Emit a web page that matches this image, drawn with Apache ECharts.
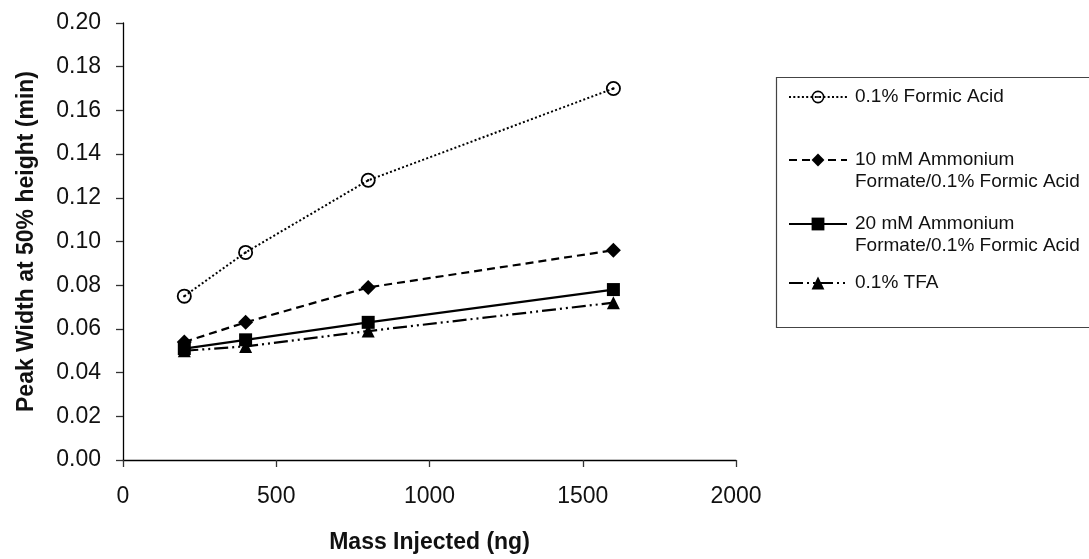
<!DOCTYPE html>
<html>
<head>
<meta charset="utf-8">
<script src="https://cdn.jsdelivr.net/npm/echarts@6/dist/echarts.min.js"></script>
<style>
  html, body { margin: 0; padding: 0; background: #fff; }
  #chart { width: 1089px; height: 559px; }
</style>
</head>
<body>
<div id="chart"></div>
<script>
// Injected mass (ng) and measured peak widths (min) for each mobile phase
const massInjected = [200, 400, 800, 1600];
const formicAcid = [0.075, 0.095, 0.128, 0.170];
const ammonium10 = [0.054, 0.063, 0.079, 0.096];
const ammonium20 = [0.051, 0.055, 0.063, 0.078];
const tfa = [0.050, 0.052, 0.059, 0.072];

const seriesNames = [
  '0.1% Formic Acid',
  '10 mM Ammonium\nFormate/0.1% Formic Acid',
  '20 mM Ammonium\nFormate/0.1% Formic Acid',
  '0.1% TFA'
];

const xAxisName = 'Mass Injected (ng)';
const yAxisName = 'Peak Width at 50% height (min)';

const FONT = '"Liberation Sans", Arial, Helvetica, sans-serif';
const INK = '#000';

// open circle with a centre dot
const ringDot = 'path://M10,0 A10,10 0 1,1 10,20 A10,10 0 1,1 10,0 Z ' +
  'M10,2.4 A7.6,7.6 0 1,0 10,17.6 A7.6,7.6 0 1,0 10,2.4 Z ' +
  'M10,8.4 A1.6,1.6 0 1,1 10,11.6 A1.6,1.6 0 1,1 10,8.4 Z';

function pairs(values) {
  return massInjected.map((m, i) => [m, values[i]]);
}

const styles = [
  { values: formicAcid, symbol: ringDot, size: 15, line: { width: 2, type: [2, 2.3] } },
  { values: ammonium10, symbol: 'diamond', size: 15, line: { width: 2.2, type: [8, 5] } },
  { values: ammonium20, symbol: 'rect', size: 13, line: { width: 2.2, type: 'solid' } },
  { values: tfa, symbol: 'triangle', size: 13, line: { width: 2.2, type: [14, 4, 2, 4, 2, 4] } }
];

const series = styles.map((s, i) => ({
  name: seriesNames[i],
  type: 'line',
  data: pairs(s.values),
  symbol: s.symbol,
  symbolSize: s.size,
  symbolKeepAspect: true,
  showAllSymbol: true,
  lineStyle: { color: INK, width: s.line.width, type: s.line.type, cap: 'butt' },
  itemStyle: { color: INK, borderWidth: 0 },
  z: 10 - i
}));

// one legend block per entry so each sits at its own row inside the frame
const legendTops = [86, 127, 191, 272];
const legends = seriesNames.map((name, i) => ({
  data: [name],
  orient: 'vertical',
  left: 788,
  top: legendTops[i],
  padding: 0,
  itemWidth: 58,
  itemHeight: 16,
  selectedMode: false,
  formatter: n => (n.indexOf('\n') >= 0 ? '\n' + n : n),
  textStyle: { fontFamily: FONT, fontSize: 19, lineHeight: 22, color: '#111', padding: [0, 0, 0, 3] }
}));

const chart = echarts.init(document.getElementById('chart'), null, { renderer: 'canvas' });
chart.setOption({
  animation: false,
  backgroundColor: '#fff',
  grid: { left: 123, right: 353, top: 23, bottom: 96, containLabel: false },
  xAxis: {
    type: 'value',
    min: 0, max: 2000, interval: 500,
    name: xAxisName,
    nameLocation: 'middle',
    nameGap: 71,
    nameTextStyle: { fontFamily: FONT, fontSize: 23, fontWeight: 'bold', color: '#111' },
    axisLine: { show: true, onZero: false, lineStyle: { color: INK, width: 1.3 } },
    axisTick: { show: true, length: 7, inside: false, lineStyle: { color: '#333', width: 1.3 } },
    axisLabel: { fontFamily: FONT, fontSize: 23, color: '#111', margin: 25, formatter: v => String(v) },
    splitLine: { show: false }
  },
  yAxis: {
    type: 'value',
    min: 0, max: 0.2, interval: 0.02,
    name: yAxisName,
    nameLocation: 'middle',
    nameGap: 85,
    nameTextStyle: { fontFamily: FONT, fontSize: 23, fontWeight: 'bold', color: '#111' },
    axisLine: { show: true, onZero: false, lineStyle: { color: INK, width: 1.3 } },
    axisTick: { show: true, length: 7, inside: false, lineStyle: { color: '#333', width: 1.3 } },
    axisLabel: { fontFamily: FONT, fontSize: 23, color: '#111', margin: 22, formatter: v => v.toFixed(2) },
    splitLine: { show: false }
  },
  legend: legends,
  graphic: [{
    type: 'rect',
    left: 774, top: 75,
    shape: { width: 340, height: 250 },
    style: { fill: 'none', stroke: '#444', lineWidth: 1.2 },
    z: -1
  }],
  series: series
});
</script>
</body>
</html>
